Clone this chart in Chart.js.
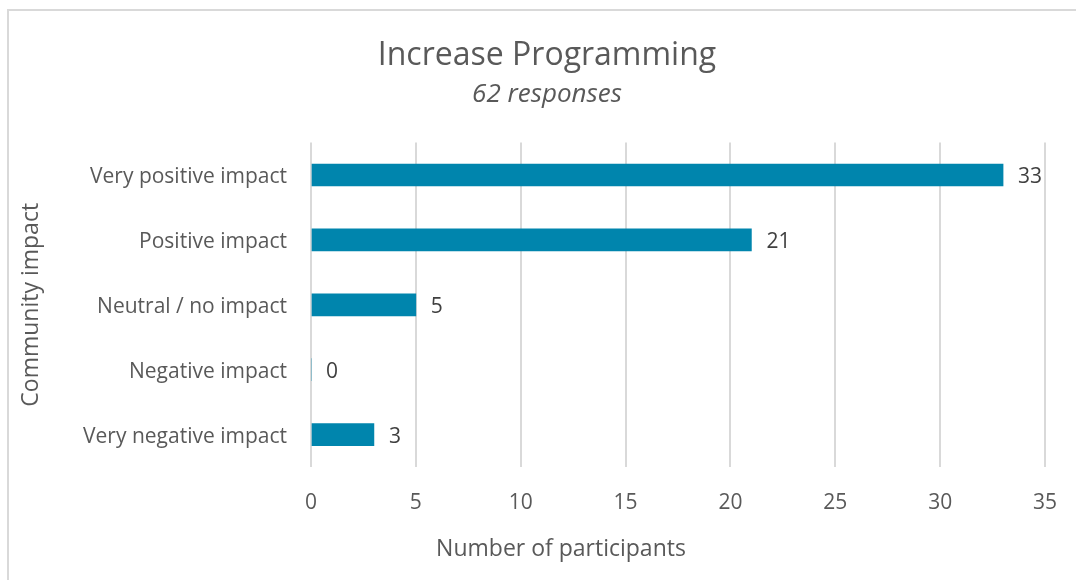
<!DOCTYPE html>
<html>
<head>
<meta charset="utf-8">
<script src="https://cdn.jsdelivr.net/npm/chart.js@4"></script>
<style>
  html, body { margin: 0; padding: 0; background: #fff; overflow: hidden; }
  #frame { position: absolute; left: 7px; top: 9px; width: 1200px; height: 700px;
           border-top: 2px solid #d9d9d9; border-left: 2px solid #d9d9d9; }
  canvas { position: absolute; left: 0; top: 0; }
</style>
</head>
<body>
<div id="frame"></div>
<canvas id="impactChart" width="1094" height="580"></canvas>
<script>
var categories = ['Very positive impact', 'Positive impact', 'Neutral / no impact', 'Negative impact', 'Very negative impact'];
var participants = [33, 21, 5, 0, 3];
var xTicks = [0, 5, 10, 15, 20, 25, 30, 35];
var xAxisTitle = 'Number of participants';

var textColor = '#595959';
var fontFamily = "'Open Sans', sans-serif";

// values written just past the end of each bar
var barValueLabels = {
    id: 'barValueLabels',
    afterDatasetsDraw: function (chart) {
        var ctx = chart.ctx;
        var meta = chart.getDatasetMeta(0);
        ctx.save();
        ctx.font = '21px ' + fontFamily;
        ctx.fillStyle = '#404040';
        ctx.textAlign = 'left';
        ctx.textBaseline = 'middle';
        meta.data.forEach(function (bar, i) {
            ctx.fillText(String(participants[i]), bar.x + 15, bar.y + 2);
        });
        ctx.restore();
    }
};

// the x axis title sits left of the plot centre, as in the original
var xTitle = {
    id: 'xTitle',
    afterDraw: function (chart) {
        var ctx = chart.ctx;
        ctx.save();
        ctx.font = '23px ' + fontFamily;
        ctx.fillStyle = textColor;
        ctx.textAlign = 'center';
        ctx.textBaseline = 'middle';
        ctx.fillText(xAxisTitle, 561, 549);
        ctx.restore();
    }
};

var ctx = document.getElementById('impactChart').getContext('2d');
var impactChart = new Chart(ctx, {
    type: 'bar',
    data: {
        labels: categories,
        datasets: [{
            label: xAxisTitle,
            data: participants,
            backgroundColor: '#0085ad',
            barThickness: 22
        }]
    },
    options: {
        indexAxis: 'y',
        responsive: false,
        animation: false,
        layout: { padding: { left: 49, right: 49, top: 0, bottom: 0 } },
        plugins: {
            legend: { display: false },
            tooltip: { enabled: false },
            title: {
                display: true,
                text: 'Increase Programming',
                color: textColor,
                font: { family: fontFamily, size: 32, weight: 'normal' },
                padding: { top: 37, bottom: 0 }
            },
            subtitle: {
                display: true,
                text: '62 responses',
                color: textColor,
                font: { family: fontFamily, size: 26, style: 'italic', weight: 'normal' },
                padding: { top: 4, bottom: 32 }
            }
        },
        scales: {
            x: {
                min: 0,
                max: 35,
                afterBuildTicks: function (scale) {
                    scale.ticks = xTicks.map(function (v) { return { value: v }; });
                },
                afterFit: function (scale) { scale.height = 113; },
                grid: { color: '#d9d9d9', lineWidth: 2, drawTicks: false },
                border: { display: false },
                ticks: {
                    color: textColor,
                    padding: 23,
                    font: { family: fontFamily, size: 21 }
                },
                title: { display: false }
            },
            y: {
                afterFit: function (scale) { scale.width = 262; },
                grid: { display: false, drawTicks: false },
                border: { display: false },
                ticks: {
                    color: textColor,
                    padding: 24,
                    labelOffset: 2,
                    font: { family: fontFamily, size: 21 }
                },
                title: {
                    display: true,
                    text: 'Community impact',
                    color: textColor,
                    font: { family: fontFamily, size: 23 },
                    padding: { top: -31, bottom: 0 }
                }
            }
        }
    },
    plugins: [barValueLabels, xTitle]
});
</script>
</body>
</html>
